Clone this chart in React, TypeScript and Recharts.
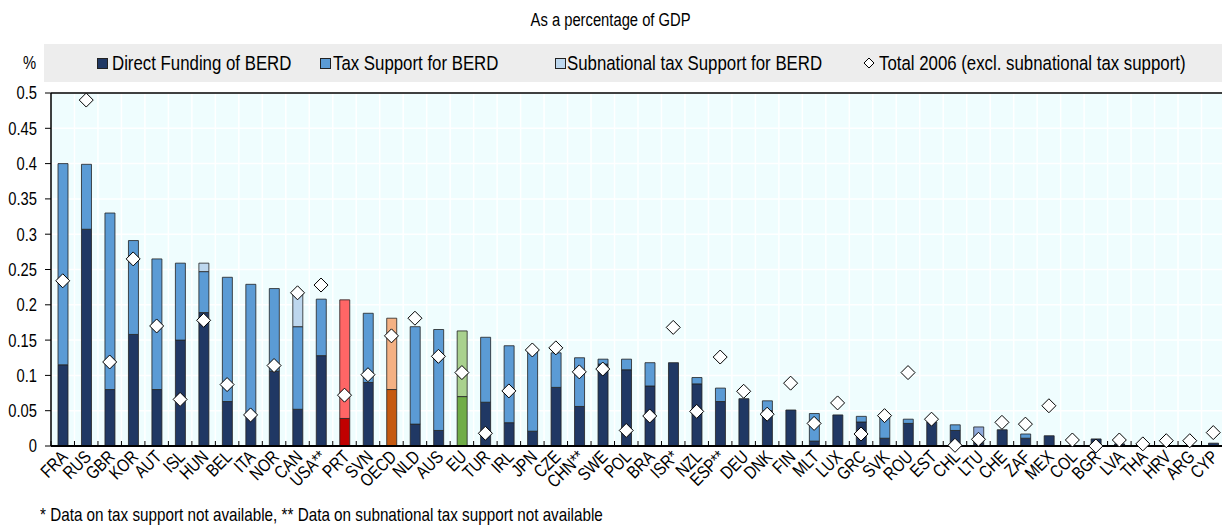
import React from 'react';
import {
  ComposedChart,
  Bar,
  Line,
  XAxis,
  YAxis,
  CartesianGrid,
  ReferenceLine,
  Cell,
} from 'recharts';

// Government support for business R&D, as a percentage of GDP
const countries = [
  'FRA', 'RUS', 'GBR', 'KOR', 'AUT', 'ISL', 'HUN', 'BEL', 'ITA', 'NOR',
  'CAN', 'USA**', 'PRT', 'SVN', 'OECD', 'NLD', 'AUS', 'EU', 'TUR', 'IRL',
  'JPN', 'CZE', 'CHN**', 'SWE', 'POL', 'BRA', 'ISR*', 'NZL', 'ESP**', 'DEU',
  'DNK', 'FIN', 'MLT', 'LUX', 'GRC', 'SVK', 'ROU', 'EST', 'CHL', 'LTU',
  'CHE', 'ZAF', 'MEX', 'COL', 'BGR', 'LVA', 'THA', 'HRV', 'ARG', 'CYP',
];

const directFunding = [
  0.115, 0.307, 0.080, 0.158, 0.080, 0.150, 0.189, 0.063, 0.042, 0.106,
  0.052, 0.128, 0.039, 0.090, 0.080, 0.031, 0.022, 0.070, 0.062, 0.033,
  0.021, 0.083, 0.056, 0.116, 0.108, 0.085, 0.118, 0.088, 0.063, 0.067,
  0.050, 0.051, 0.007, 0.044, 0.034, 0.011, 0.032, 0.034, 0.022, 0.004,
  0.023, 0.011, 0.0145, 0, 0.010, 0.003, 0, 0, 0, 0.004,
];

const taxSupport = [
  0.285, 0.092, 0.250, 0.133, 0.185, 0.109, 0.058, 0.176, 0.187, 0.117,
  0.117, 0.080, 0.168, 0.098, 0.101, 0.138, 0.143, 0.093, 0.092, 0.109,
  0.115, 0.049, 0.069, 0.007, 0.015, 0.033, 0, 0.009, 0.019, 0,
  0.014, 0, 0.039, 0, 0.008, 0.031, 0.006, 0, 0.008, 0.023,
  0, 0.006, 0, 0, 0, 0, 0, 0, 0, 0,
];

const subnationalTax = [
  0, 0, 0, 0, 0, 0, 0.012, 0, 0, 0,
  0.047, 0, 0, 0, 0, 0, 0, 0, 0, 0,
  0, 0, 0, 0, 0, 0, 0, 0, 0, 0,
  0, 0, 0, 0, 0, 0, 0, 0, 0, 0,
  0, 0, 0, 0, 0, 0, 0, 0, 0, 0,
];

const total2006 = [
  0.234, 0.490, 0.119, 0.265, 0.170, 0.066, 0.178, 0.087, 0.044, 0.114,
  0.217, 0.228, 0.072, 0.101, 0.156, 0.181, 0.127, 0.104, 0.018, 0.078,
  0.136, 0.139, 0.105, 0.109, 0.022, 0.0425, 0.168, 0.049, 0.126, 0.0775,
  0.045, 0.089, 0.032, 0.061, 0.017, 0.043, 0.104, 0.038, 0.001, 0.0095,
  0.0335, 0.031, 0.057, 0.0085, 0, 0.0085, 0.003, 0.0075, 0.0075, 0.019,
];

const yTicks = [0, 0.05, 0.1, 0.15, 0.2, 0.25, 0.3, 0.35, 0.4, 0.45, 0.5];

const legendLabels = [
  'Direct Funding of BERD',
  'Tax Support for BERD',
  'Subnational tax Support for BERD',
  'Total 2006 (excl. subnational tax support)',
];

const COLORS = {
  direct: '#203864',
  tax: '#5B9BD5',
  subnat: '#BDD7EE',
};

// Highlighted aggregates / countries get their own palette
const highlight: Record<string, { direct: string; tax: string }> = {
  PRT: { direct: '#C00000', tax: '#FF6666' },
  OECD: { direct: '#C55A11', tax: '#F4B183' },
  EU: { direct: '#70AD47', tax: '#A9D18E' },
  LTU: { direct: COLORS.direct, tax: '#8FAADC' },
};

const data = countries.map((country, i) => ({
  country,
  direct: directFunding[i],
  tax: taxSupport[i],
  subnat: subnationalTax[i],
  total: total2006[i],
}));

const FONT = '"Liberation Sans", Arial, Helvetica, sans-serif';
// horizontal compression giving a narrow sans look
const NARROW = 0.82;

const Narrow = ({ children, origin = 'left' }: { children: React.ReactNode; origin?: string }) => (
  <span
    style={{
      display: 'inline-block',
      transform: `scaleX(${NARROW})`,
      transformOrigin: origin,
      whiteSpace: 'nowrap',
    }}
  >
    {children}
  </span>
);

const Diamond = (props: any) => {
  const { cx, cy, index } = props;
  if (cx == null || cy == null) return <g key={`d-${index}`} />;
  const r = 7;
  return (
    <path
      key={`d-${index}`}
      d={`M${cx},${cy - r}L${cx + r},${cy}L${cx},${cy + r}L${cx - r},${cy}Z`}
      fill="#fff"
      stroke="#000"
      strokeWidth={1}
    />
  );
};

const ValueTick = (props: any) => {
  const { x, y, payload } = props;
  return (
    <text
      transform={`translate(${x},${y}) scale(${NARROW},1)`}
      textAnchor="end"
      dy="0.36em"
      fontSize={18}
      fontFamily={FONT}
      fill="#000"
    >
      {String(payload.value)}
    </text>
  );
};

const CountryTick = (props: any) => {
  const { x, y, payload, width, visibleTicksCount, index } = props;
  const band = width / visibleTicksCount;
  const left = x - band / 2;
  return (
    <g>
      <line x1={left} y1={y} x2={left} y2={y - 5} stroke="#000" strokeWidth={1} />
      {index === visibleTicksCount - 1 && (
        <line x1={x + band / 2} y1={y} x2={x + band / 2} y2={y - 5} stroke="#000" strokeWidth={1} />
      )}
      <text
        transform={`translate(${x + 6},${y + 12}) rotate(-45) scale(${NARROW},1)`}
        textAnchor="end"
        fontSize={18}
        fontFamily={FONT}
        fill="#000"
      >
        {payload.value}
      </text>
    </g>
  );
};

const Legend = () => {
  const markerX = [97, 320, 555, 862];
  const textX = [112, 333, 567, 879];
  return (
    <div
      style={{
        position: 'absolute',
        left: 44,
        top: 44,
        width: 1178,
        height: 38,
        background: '#EDEDED',
      }}
    >
      {legendLabels.map((label, i) => (
        <React.Fragment key={label}>
          {i < 3 ? (
            <span
              style={{
                position: 'absolute',
                left: markerX[i] - 44,
                top: 14,
                width: 9,
                height: 9,
                background: [COLORS.direct, COLORS.tax, COLORS.subnat][i],
                border: '1px solid #222',
              }}
            />
          ) : (
            <svg
              width={14}
              height={14}
              style={{ position: 'absolute', left: markerX[i] - 44, top: 12 }}
            >
              <path d="M7,2L12,7L7,12L2,7Z" fill="#fff" stroke="#000" strokeWidth={1} />
            </svg>
          )}
          <div
            style={{
              position: 'absolute',
              left: textX[i] - 44,
              top: 0,
              height: 38,
              lineHeight: '38px',
              fontSize: 20.5,
              color: '#000',
            }}
          >
            <Narrow>{label}</Narrow>
          </div>
        </React.Fragment>
      ))}
    </div>
  );
};

export default function App() {
  return (
    <div
      style={{
        position: 'absolute',
        left: 0,
        top: 0,
        width: 1222,
        height: 526,
        overflow: 'hidden',
        background: '#fff',
        fontFamily: FONT,
      }}
    >
      <div
        style={{
          position: 'absolute',
          left: 0,
          width: 1222,
          top: 8,
          textAlign: 'center',
          fontSize: 18,
          lineHeight: '24px',
          color: '#000',
        }}
      >
        <Narrow origin="center">As a percentage of GDP</Narrow>
      </div>
      <div style={{ position: 'absolute', left: 23, top: 51, fontSize: 18, lineHeight: '24px', color: '#000' }}>
        <Narrow>%</Narrow>
      </div>
      <Legend />
      <div style={{ position: 'absolute', left: 0, top: 0 }}>
        <ComposedChart
          width={1226}
          height={526}
          data={data}
          margin={{ top: 93, right: 1, bottom: 0, left: 0 }}
          barCategoryGap={0}
        >
          <CartesianGrid
            fill="#EFFDFE"
            stroke="#FFFFFF"
            strokeWidth={1.5}
            verticalCoordinatesGenerator={({ offset }: any) =>
              countries.map((_, i) => offset.left + (offset.width * (i + 1)) / countries.length)
            }
          />
          <XAxis
            dataKey="country"
            interval={0}
            height={80}
            tickSize={0}
            tickMargin={0}
            tickLine={false}
            axisLine={{ stroke: '#000', strokeWidth: 2 }}
            tick={<CountryTick />}
          />
          <YAxis
            width={51}
            domain={[0, 0.5]}
            ticks={yTicks}
            interval={0}
            tickSize={6}
            tickMargin={8}
            axisLine={{ stroke: '#000', strokeWidth: 1.5 }}
            tickLine={{ stroke: '#000' }}
            tick={<ValueTick />}
          />
          <ReferenceLine y={0.5} stroke="#000" strokeWidth={1.5} />
          <Bar dataKey="direct" stackId="s" barSize={10} stroke="#222" strokeWidth={0.8} isAnimationActive={false}>
            {data.map((d) => (
              <Cell key={d.country} fill={highlight[d.country]?.direct ?? COLORS.direct} />
            ))}
          </Bar>
          <Bar dataKey="tax" stackId="s" barSize={10} stroke="#222" strokeWidth={0.8} isAnimationActive={false}>
            {data.map((d) => (
              <Cell key={d.country} fill={highlight[d.country]?.tax ?? COLORS.tax} />
            ))}
          </Bar>
          <Bar
            dataKey="subnat"
            stackId="s"
            barSize={10}
            fill={COLORS.subnat}
            stroke="#222"
            strokeWidth={0.8}
            isAnimationActive={false}
          />
          <Line
            dataKey="total"
            stroke="none"
            isAnimationActive={false}
            dot={Diamond}
            activeDot={false}
          />
        </ComposedChart>
      </div>
      <div style={{ position: 'absolute', left: 40, top: 503, fontSize: 18.6, lineHeight: '24px', color: '#000' }}>
        <Narrow>* Data on tax support not available, ** Data on subnational tax support not available</Narrow>
      </div>
    </div>
  );
}
